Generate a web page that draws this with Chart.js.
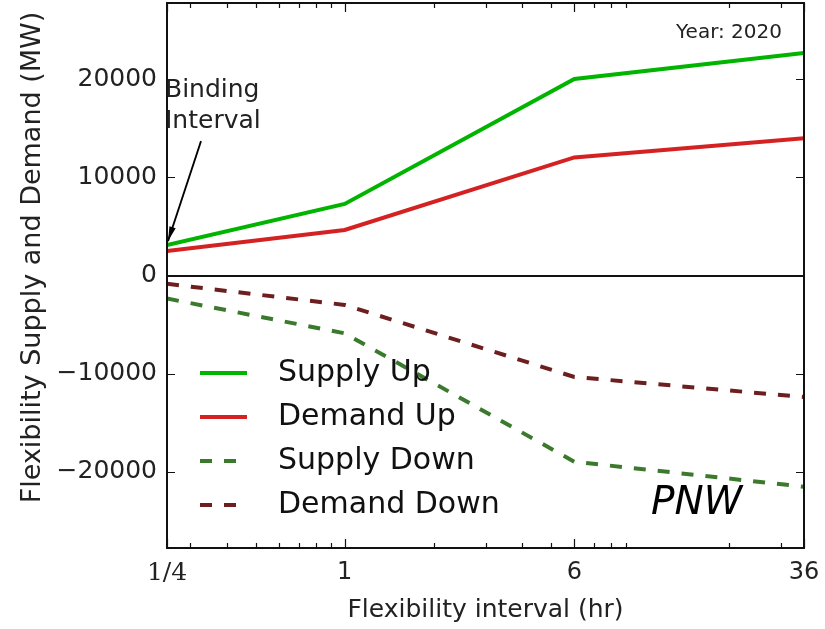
<!DOCTYPE html>
<html>
<head>
<meta charset="utf-8">
<script src="https://cdn.jsdelivr.net/npm/chart.js@4/dist/chart.umd.min.js"></script>
<style>
  html, body { margin: 0; padding: 0; background: #fff; }
  #wrap { width: 825px; height: 629px; }
</style>
</head>
<body>
<div id="wrap"><canvas id="flexChart"></canvas></div>
<script>
// flexibility intervals (hr) and the labels used on the axis
const intervals = [0.25, 1, 6, 36];
const intervalLabels = ['1/4', '1', '6', '36'];
const minorIntervals = [0.3, 0.4, 0.5, 0.6, 0.7, 0.8, 0.9, 2, 3, 4, 5, 7, 8, 9, 20, 30];

// MW
const supplyUp = [3100, 7300, 20050, 22700];
const demandUp = [2500, 4650, 12050, 14000];
const supplyDown = [-2350, -5900, -19000, -21550];
const demandDown = [-850, -3000, -10350, -12400];

const yTicks = [-20000, -10000, 0, 10000, 20000];

const FONT = 'DejaVu Sans';

function toPoints(values) {
    return values.map((v, i) => ({ x: intervals[i], y: v }));
}

// inside ticks, zero line and the box round the axes
const framePlugin = {
    id: 'frame',
    afterDatasetsDraw(chart) {
        const { ctx, chartArea: a, scales: { x, y } } = chart;
        ctx.save();
        ctx.strokeStyle = '#111';
        ctx.lineWidth = 2;

        const y0 = Math.round(y.getPixelForValue(0));
        ctx.beginPath();
        ctx.moveTo(a.left, y0);
        ctx.lineTo(a.right, y0);
        ctx.stroke();

        ctx.lineWidth = 1.2;
        ctx.beginPath();
        x.ticks.forEach(t => {
            const px = Math.round(x.getPixelForValue(t.value)) + 0.5;
            const len = intervals.includes(t.value) ? 9 : 5;
            ctx.moveTo(px, a.bottom);
            ctx.lineTo(px, a.bottom - len);
            ctx.moveTo(px, a.top);
            ctx.lineTo(px, a.top + len);
        });
        y.ticks.forEach(t => {
            const py = Math.round(y.getPixelForValue(t.value)) + 0.5;
            ctx.moveTo(a.left, py);
            ctx.lineTo(a.left + 8, py);
            ctx.moveTo(a.right, py);
            ctx.lineTo(a.right - 8, py);
        });
        ctx.stroke();

        ctx.lineWidth = 2;
        ctx.strokeRect(a.left, a.top, a.width, a.height);
        ctx.restore();
    }
};

// legend, texts and the arrow
const notesPlugin = {
    id: 'notes',
    afterDraw(chart) {
        const { ctx, chartArea: a, scales: { x, y } } = chart;
        ctx.save();

        // legend inside the lower half
        ctx.font = '30px "' + FONT + '"';
        ctx.textBaseline = 'middle';
        chart.data.datasets.forEach((ds, i) => {
            const ly = a.top + 370 + i * 44;
            ctx.strokeStyle = ds.borderColor;
            ctx.lineWidth = ds.borderWidth;
            ctx.setLineDash(ds.borderDash || []);
            ctx.beginPath();
            ctx.moveTo(a.left + 33, ly);
            ctx.lineTo(a.left + 80, ly);
            ctx.stroke();
            ctx.setLineDash([]);
            ctx.fillStyle = '#111';
            ctx.fillText(ds.label, a.left + 111, ly);
        });

        // y axis title
        ctx.save();
        ctx.translate(33, (a.top + a.bottom) / 2 - 18);
        ctx.rotate(-Math.PI / 2);
        ctx.textAlign = 'center';
        ctx.font = '27px "' + FONT + '"';
        ctx.fillStyle = '#222';
        ctx.fillText('Flexibility Supply and Demand (MW)', 0, 0);
        ctx.restore();

        // year and region
        ctx.textBaseline = 'alphabetic';
        ctx.textAlign = 'right';
        ctx.font = '20px "' + FONT + '"';
        ctx.fillStyle = '#222';
        ctx.fillText('Year: 2020', a.right - 22, a.top + 35);

        ctx.textAlign = 'left';
        ctx.font = 'italic 39px "' + FONT + '"';
        ctx.fillStyle = '#000';
        ctx.fillText('PNW', a.right - 153, a.top + 511);

        // binding interval annotation
        ctx.font = '25px "' + FONT + '"';
        ctx.fillStyle = '#222';
        ctx.fillText('Binding', a.left - 2, a.top + 94);
        ctx.fillText('Interval', a.left - 2, a.top + 125);

        const tipX = x.getPixelForValue(intervals[0]) + 1;
        const tipY = y.getPixelForValue(supplyUp[0]) - 4;
        const fromX = tipX + 33;
        const fromY = tipY - 100;
        const ang = Math.atan2(tipY - fromY, tipX - fromX);
        ctx.strokeStyle = '#000';
        ctx.lineWidth = 1.8;
        ctx.beginPath();
        ctx.moveTo(fromX, fromY);
        ctx.lineTo(tipX, tipY);
        ctx.stroke();
        ctx.fillStyle = '#000';
        ctx.beginPath();
        ctx.moveTo(tipX, tipY);
        ctx.lineTo(tipX - 15 * Math.cos(ang - 0.22), tipY - 15 * Math.sin(ang - 0.22));
        ctx.lineTo(tipX - 15 * Math.cos(ang + 0.22), tipY - 15 * Math.sin(ang + 0.22));
        ctx.closePath();
        ctx.fill();

        ctx.restore();
    }
};

Chart.defaults.font.family = FONT;
Chart.defaults.color = '#222';

new Chart(document.getElementById('flexChart'), {
    type: 'line',
    data: {
        datasets: [
            { label: 'Supply Up', data: toPoints(supplyUp), borderColor: '#00b400', borderWidth: 4 },
            { label: 'Demand Up', data: toPoints(demandUp), borderColor: '#d42222', borderWidth: 4 },
            { label: 'Supply Down', data: toPoints(supplyDown), borderColor: '#3b7a2c', borderWidth: 4, borderDash: [12, 12] },
            { label: 'Demand Down', data: toPoints(demandDown), borderColor: '#6d1f1f', borderWidth: 4, borderDash: [12, 12] }
        ]
    },
    options: {
        responsive: true,
        maintainAspectRatio: false,
        animation: false,
        layout: { padding: { top: 3, right: 21, left: 0, bottom: 0 } },
        elements: {
            point: { radius: 0, hoverRadius: 0 },
            line: { tension: 0, borderCapStyle: 'butt' }
        },
        plugins: {
            legend: { display: false },
            tooltip: { enabled: false }
        },
        scales: {
            x: {
                type: 'logarithmic',
                min: 0.25,
                max: 36,
                grid: { display: false, drawTicks: false },
                border: { display: false },
                afterBuildTicks(scale) {
                    scale.ticks = intervals.concat(minorIntervals).sort((a, b) => a - b).map(v => ({ value: v }));
                },
                afterFit(scale) {
                    scale.height = 81;
                    scale.paddingLeft = 0;
                    scale.paddingRight = 0;
                },
                ticks: {
                    autoSkip: false,
                    maxRotation: 0,
                    padding: 10,
                    color: '#222',
                    font: ctx => {
                        const v = ctx.tick ? ctx.tick.value : null;
                        return v === 0.25 ? { family: 'DejaVu Serif', size: 25 } : { family: FONT, size: 24 };
                    },
                    callback: value => {
                        const i = intervals.indexOf(value);
                        return i >= 0 ? intervalLabels[i] : '';
                    }
                },
                title: {
                    display: true,
                    text: 'Flexibility interval (hr)',
                    font: { size: 25 },
                    color: '#222'
                }
            },
            y: {
                min: -27800,
                max: 27800,
                grid: { display: false, drawTicks: false },
                border: { display: false },
                afterBuildTicks(scale) {
                    scale.ticks = yTicks.map(v => ({ value: v }));
                },
                afterFit(scale) {
                    scale.width = 167;
                    scale.paddingTop = 0;
                    scale.paddingBottom = 0;
                },
                ticks: {
                    padding: 10,
                    color: '#222',
                    font: { size: 25 },
                    callback: value => (value < 0 ? '\u2212' + Math.abs(value) : String(value))
                }
            }
        }
    },
    plugins: [framePlugin, notesPlugin]
});
</script>
</body>
</html>
